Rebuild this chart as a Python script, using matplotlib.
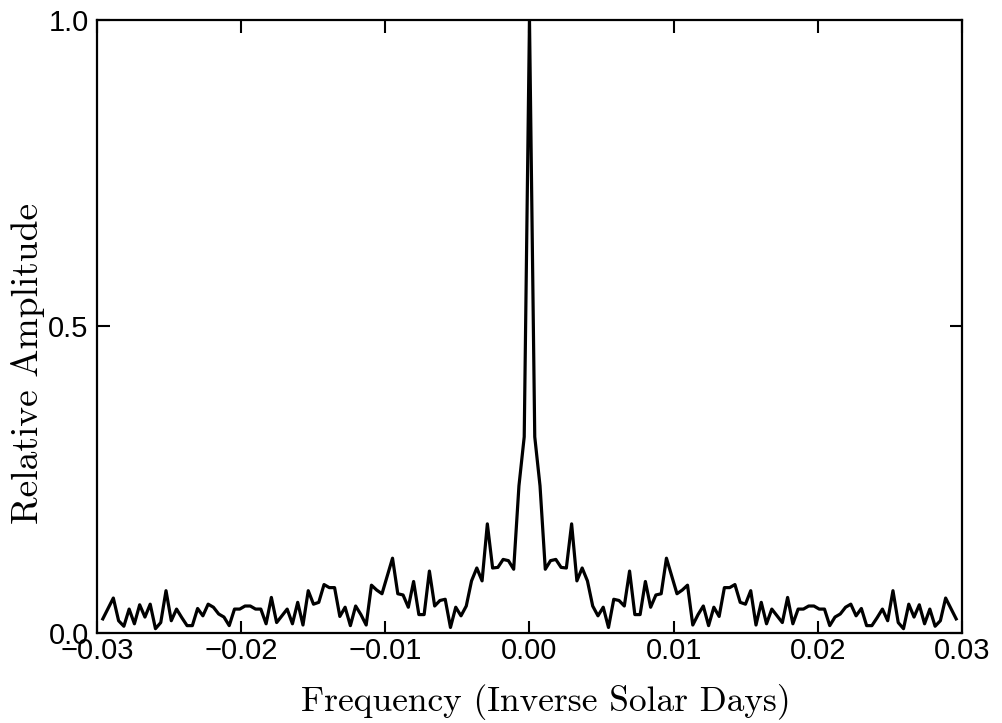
import numpy as np
import matplotlib
matplotlib.use("Agg")
import matplotlib.pyplot as plt

# spectral window (right half, bin 0 = zero frequency);
# the curve is mirror-symmetric about f = 0
freq_step = 0.0003654
amp_half = [1.0, 0.32, 0.24, 0.104, 0.118, 0.12, 0.107, 0.106, 0.178, 0.085,
            0.106, 0.085, 0.044, 0.028, 0.042, 0.009, 0.055, 0.053, 0.044, 0.101,
            0.03, 0.03, 0.084, 0.042, 0.062, 0.064, 0.122, 0.093, 0.064, 0.07,
            0.078, 0.013, 0.03, 0.044, 0.012, 0.042, 0.027, 0.074, 0.074, 0.079,
            0.05, 0.047, 0.069, 0.013, 0.05, 0.015, 0.039, 0.028, 0.017, 0.058,
            0.015, 0.039, 0.039, 0.044, 0.044, 0.039, 0.039, 0.012, 0.026, 0.031,
            0.042, 0.047, 0.028, 0.04, 0.012, 0.012, 0.025, 0.039, 0.02, 0.069,
            0.017, 0.007, 0.047, 0.026, 0.046, 0.015, 0.039, 0.011, 0.02, 0.057,
            0.04, 0.023]

xticks = [-0.03, -0.02, -0.01, 0.0, 0.01, 0.02, 0.03]
xlabels = ["\u22120.03", "\u22120.02", "\u22120.01", "0.00", "0.01", "0.02", "0.03"]
yticks = [0.0, 0.5, 1.0]
ylabels = ["0.0", "0.5", "1.0"]


def main():
    half = np.array(amp_half)
    bins = np.arange(len(half))
    freq = np.concatenate([-bins[:0:-1], bins]) * freq_step
    amp = np.concatenate([half[:0:-1], half])

    fig = plt.figure(figsize=(10.03, 7.23), dpi=100)
    ax = fig.add_axes([0.0967, 0.1245, 0.8624, 0.8479])
    ax.plot(freq, amp, color="black", lw=2.3)

    ax.set_xlim(-0.03, 0.03)
    ax.set_ylim(0.0, 1.0)
    ax.set_xticks(xticks)
    ax.set_xticklabels(xlabels)
    ax.set_yticks(yticks)
    ax.set_yticklabels(ylabels)
    ax.tick_params(direction="in", length=9, width=1.5, top=True, right=True,
                   labelsize=21)
    ax.tick_params(axis="x", pad=3)
    ax.tick_params(axis="y", pad=6)
    for lab in ax.get_xticklabels() + ax.get_yticklabels():
        lab.set_family("Liberation Sans")
    for sp in ax.spines.values():
        sp.set_linewidth(1.6)

    ax.set_xlabel("Frequency (Inverse Solar Days)", family="cmr10", fontsize=25.5)
    ax.xaxis.set_label_coords(0.519, -0.083)
    ax.set_ylabel("Relative Amplitude", family="cmr10", fontsize=27)
    ax.yaxis.set_label_coords(-0.06, 0.44)

    fig.savefig("out.png", dpi=100, facecolor="white")


if __name__ == "__main__":
    main()
